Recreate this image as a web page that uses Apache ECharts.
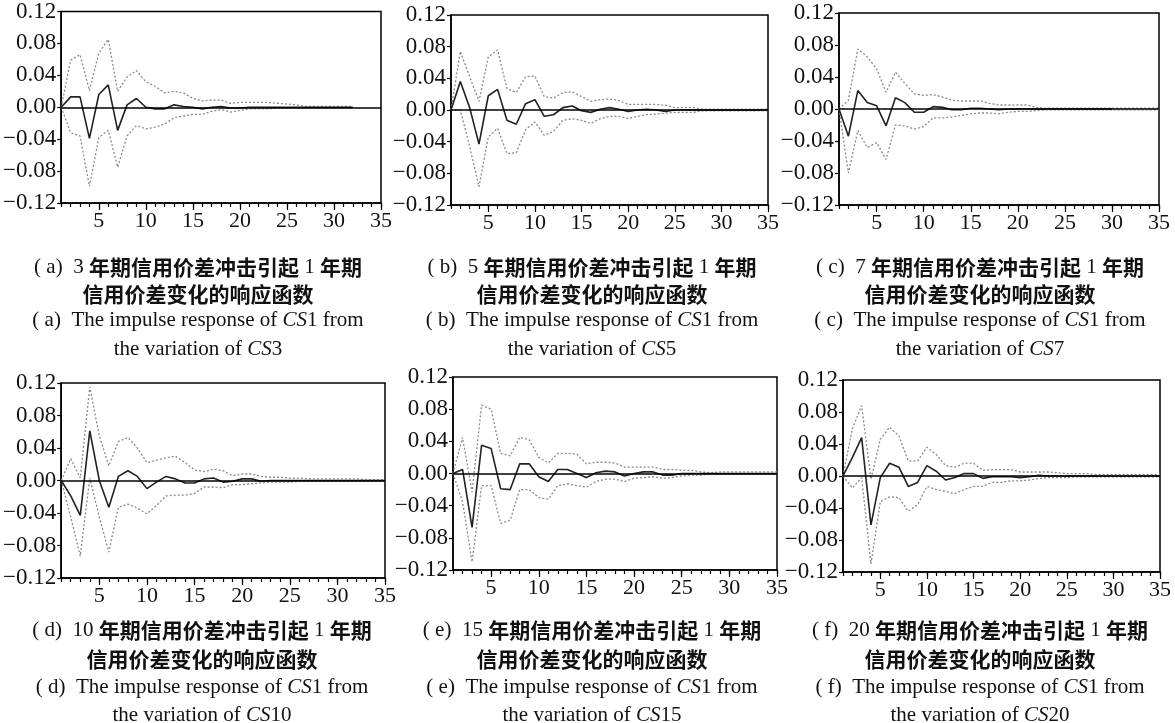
<!DOCTYPE html>
<html>
<head>
<meta charset="utf-8">
<script src="https://cdn.jsdelivr.net/npm/echarts@6/dist/echarts.min.js"></script>
<style>html,body{margin:0;padding:0;background:#fff;}#c{width:1175px;height:723px;}</style>
</head>
<body>
<div id="c"></div>
<script>
// ---- data ----
const xTickLabels = [5, 10, 15, 20, 25, 30, 35];
const yTickLabels = [-0.12, -0.08, -0.04, 0, 0.04, 0.08, 0.12];
const panelLetters = ['a', 'b', 'c', 'd', 'e', 'f'];
const shockTenors = ['3', '5', '7', '10', '15', '20'];

const aMid = [0,0.013,0.013,-0.039,0.016,0.028,-0.029,0.003,0.011,0,-0.002,-0.002,0.003,0.001,0,-0.002,0,0.001,-0.001,-0.001,0,0,0,0,0,0,0,0,0,0,0,0];
const aUp  = [0,0.059,0.066,0.021,0.068,0.085,0.02,0.038,0.046,0.032,0.026,0.018,0.02,0.018,0.011,0.008,0.009,0.009,0.005,0.006,0.006,0.006,0.006,0.005,0.004,0.003,0.001,0.001,0.001,0.001,0.001,0.001];
const aLo  = [0,-0.032,-0.036,-0.099,-0.038,-0.029,-0.075,-0.036,-0.023,-0.027,-0.025,-0.021,-0.013,-0.011,-0.009,-0.009,-0.005,-0.003,-0.006,-0.004,-0.002,-0.002,-0.002,-0.001,-0.001,-0.001,-0.001,-0.001,-0.001,-0.001,-0.001,-0.001];

const bMid = [0,0.036,0.003,-0.043,0.018,0.026,-0.013,-0.018,0.008,0.013,-0.008,-0.006,0.003,0.005,-0.001,-0.003,0.001,0.003,0.001,-0.002,0,0.001,0,-0.002,0,0,0,0,0,0,0,0,0,0,0];
const bUp  = [0,0.074,0.042,0.011,0.067,0.076,0.027,0.022,0.042,0.043,0.017,0.015,0.022,0.023,0.017,0.011,0.013,0.014,0.012,0.007,0.007,0.007,0.007,0.006,0.003,0.003,0.003,0.001,0.001,0.001,0.001,0.001,0.001,0.001,0.001];
const bLo  = [0,0,-0.046,-0.097,-0.034,-0.023,-0.055,-0.054,-0.025,-0.015,-0.032,-0.027,-0.013,-0.011,-0.013,-0.017,-0.011,-0.008,-0.008,-0.011,-0.008,-0.006,-0.005,-0.004,-0.003,-0.003,-0.003,-0.001,-0.001,-0.001,-0.001,-0.001,-0.001,-0.001,-0.001];

const cMid = [0,-0.034,0.023,0.008,0.004,-0.021,0.014,0.008,-0.004,-0.004,0.003,0.002,-0.001,-0.001,0.001,0.001,0,-0.001,0,0,0,0,0,0,0,0,0,0,0,0];
const cUp  = [0,0.011,0.075,0.065,0.05,0.021,0.046,0.032,0.019,0.017,0.018,0.015,0.011,0.01,0.01,0.01,0.007,0.005,0.005,0.005,0.005,0.002,0.001,0.001,0.001,0.001,0.001,0.001,0.001,0.001,0.001,0.001,0.001,0.001,0.001];
const cLo  = [0,-0.08,-0.027,-0.048,-0.042,-0.063,-0.02,-0.021,-0.025,-0.022,-0.011,-0.011,-0.01,-0.008,-0.006,-0.005,-0.005,-0.006,-0.004,-0.003,-0.003,-0.002,-0.001,-0.001,-0.001,-0.001,-0.001,-0.001,-0.001,-0.001,-0.001,-0.001,-0.001,-0.001,-0.001];

const dMid = [0,-0.019,-0.043,0.061,0,-0.033,0.005,0.012,0.005,-0.01,-0.002,0.005,0.002,-0.003,-0.003,0.002,0.003,-0.002,-0.001,0.002,0.002,-0.001,0,0,0,0,0,0,0,0,0,0,0,0,0];
const dUp  = [0,0.027,0.003,0.115,0.055,0.018,0.048,0.053,0.04,0.022,0.025,0.028,0.03,0.022,0.013,0.011,0.014,0.012,0.006,0.008,0.008,0.005,0.004,0.004,0.003,0.003,0.002,0.002,0.002,0.002,0.002,0.002,0.001,0.001,0.001];
const dLo  = [0,-0.045,-0.093,0.003,-0.045,-0.088,-0.033,-0.029,-0.034,-0.041,-0.031,-0.019,-0.018,-0.018,-0.016,-0.008,-0.008,-0.009,-0.005,-0.005,-0.004,-0.003,-0.002,-0.002,-0.002,-0.001,-0.001,-0.001,-0.001,-0.001,-0.001,-0.001,-0.001,-0.001,-0.001];

const eMid = [0,0.005,-0.067,0.035,0.031,-0.019,-0.02,0.012,0.012,-0.004,-0.01,0.005,0.005,0,-0.005,0.001,0.003,0.002,-0.003,0,0.002,0.002,-0.002,-0.002,0,0,0,0,0,0,0,0,0,0,0];
const eUp  = [0,0.045,-0.023,0.085,0.08,0.025,0.022,0.045,0.042,0.02,0.013,0.025,0.025,0.024,0.012,0.014,0.014,0.013,0.008,0.008,0.008,0.008,0.005,0.005,0.004,0.004,0.002,0.001,0.002,0.002,0.002,0.002,0.002,0.002,0.002];
const eLo  = [0,-0.035,-0.11,-0.015,-0.015,-0.062,-0.058,-0.02,-0.02,-0.03,-0.032,-0.015,-0.013,-0.015,-0.017,-0.01,-0.007,-0.007,-0.01,-0.006,-0.005,-0.004,-0.006,-0.005,-0.003,-0.002,-0.002,-0.001,-0.001,-0.001,-0.001,-0.001,-0.001,-0.001,-0.001];

const fMid = [0,0.023,0.048,-0.061,-0.002,0.016,0.011,-0.013,-0.008,0.013,0.006,-0.005,-0.002,0.003,0.003,-0.003,-0.001,-0.001,-0.001,-0.002,-0.001,0.001,0,0,0,0,0,0,0,0,0,0,0,0,0];
const fUp  = [0,0.059,0.088,-0.004,0.046,0.061,0.05,0.019,0.019,0.036,0.027,0.013,0.011,0.016,0.016,0.007,0.008,0.008,0.008,0.005,0.005,0.005,0.005,0.004,0.003,0.003,0.003,0.002,0.002,0.002,0.002,0.002,0.002,0.002,0.002];
const fLo  = [0,-0.015,-0.002,-0.11,-0.032,-0.026,-0.027,-0.044,-0.036,-0.013,-0.017,-0.019,-0.022,-0.017,-0.013,-0.013,-0.008,-0.008,-0.006,-0.006,-0.005,-0.003,-0.002,-0.002,-0.002,-0.001,-0.001,-0.001,-0.001,-0.001,-0.001,-0.001,-0.001,-0.001,-0.001];

const mids = [aMid, bMid, cMid, dMid, eMid, fMid];
const ups  = [aUp, bUp, cUp, dUp, eUp, fUp];
const los  = [aLo, bLo, cLo, dLo, eLo, fLo];

// ---- layout ----
const grids = [
  {left: 61,  top: 5,   width: 320, height: 198},
  {left: 451, top: 15,  width: 317, height: 190},
  {left: 839, top: 13,  width: 320, height: 192},
  {left: 59,  top: 383, width: 326, height: 195},
  {left: 453, top: 377, width: 324, height: 193},
  {left: 843, top: 380, width: 317, height: 192}
];
const capX = [193, 587, 975, 197, 587, 975];
const capTopRow = [252, 279, 305, 334];
const capBotRow = [615, 644, 672, 700];

const serif = 'Liberation Serif';
const cjk = 'Noto Sans CJK SC';
const allInts = [];
for (let i = 1; i <= 35; i++) allInts.push(i);

const toPairs = arr => arr.map((v, i) => [i + 1, v]);
const yFmt = v => Math.abs(v) < 1e-9 ? '0.00' : (v < 0 ? '\u2212' : '') + Math.abs(v).toFixed(2);

const option = {
  animation: false,
  backgroundColor: '#fff',
  grid: [], xAxis: [], yAxis: [], series: [], title: []
};

grids.forEach((g, i) => {
  option.grid.push(Object.assign({show: true, borderColor: '#000', borderWidth: 1.5, backgroundColor: '#fff', containLabel: false}, g));
  // main x axis: minor ticks at each integer + labels
  option.xAxis.push({
    type: 'value', gridIndex: i, min: 1, max: 35, position: 'bottom',
    axisLine: {show: true, onZero: false, lineStyle: {color: '#000', width: 1.5}},
    axisTick: {show: true, inside: false, customValues: allInts, length: 4, lineStyle: {color: '#000', width: 1.2}},
    axisLabel: {customValues: xTickLabels, margin: 7, fontFamily: serif, fontSize: 22, color: '#111'},
    splitLine: {show: false}
  });
  // second x axis: longer major ticks
  option.xAxis.push({
    type: 'value', gridIndex: i, min: 1, max: 35, position: 'bottom',
    axisLine: {show: false, onZero: false},
    axisTick: {show: true, inside: false, customValues: xTickLabels, length: 7, lineStyle: {color: '#000', width: 1.2}},
    axisLabel: {show: false},
    splitLine: {show: false}
  });
  option.yAxis.push({
    type: 'value', gridIndex: i, min: -0.12, max: 0.12, interval: 0.04,
    axisLine: {show: true, onZero: false, lineStyle: {color: '#000', width: 1.5}},
    axisTick: {show: true, length: 4, lineStyle: {color: '#000', width: 1.2}},
    axisLabel: {formatter: yFmt, margin: 5, fontFamily: serif, fontSize: 23, color: '#111'},
    splitLine: {show: false}
  });
  const band = {type: 'line', xAxisIndex: 2 * i, yAxisIndex: i, showSymbol: false, symbol: 'none',
    lineStyle: {color: '#8a8a8a', width: 1.3, type: [2, 2]}, z: 2};
  option.series.push(Object.assign({}, band, {data: toPairs(ups[i])}));
  option.series.push(Object.assign({}, band, {data: toPairs(los[i])}));
  option.series.push({
    type: 'line', xAxisIndex: 2 * i, yAxisIndex: i, showSymbol: false, symbol: 'none',
    lineStyle: {color: '#222', width: 1.6}, z: 3,
    data: toPairs(mids[i]),
    markLine: {silent: true, symbol: 'none', label: {show: false},
      lineStyle: {color: '#000', width: 1.5, type: 'solid'}, data: [{yAxis: 0}]}
  });

  const tops = i < 3 ? capTopRow : capBotRow;
  const L = panelLetters[i];
  const rich = {
    n: {fontFamily: serif, fontSize: 21, fontWeight: 'normal', color: '#111'},
    i: {fontFamily: serif, fontSize: 21, fontWeight: 'normal', fontStyle: 'italic', color: '#111'},
    c: {fontFamily: cjk, fontSize: 21, fontWeight: 'bold', color: '#111'}
  };
  const lines = [
    '{n|( ' + L + ')  ' + shockTenors[i] + ' }{c|年期信用价差冲击引起}{n| 1 }{c|年期}',
    '{c|信用价差变化的响应函数}',
    '{n|( ' + L + ')  The impulse response of }{i|CS}{n|1 from}',
    '{n|the variation of }{i|CS}{n|' + shockTenors[i] + '}'
  ];
  lines.forEach((t, k) => {
    option.title.push({
      text: t, left: capX[i], top: tops[k], textAlign: 'center',
      textStyle: {rich: rich, fontSize: 21, fontWeight: 'normal'}
    });
  });
});

const chart = echarts.init(document.getElementById('c'), null, {renderer: 'canvas'});
chart.setOption(option);
</script>
</body>
</html>
